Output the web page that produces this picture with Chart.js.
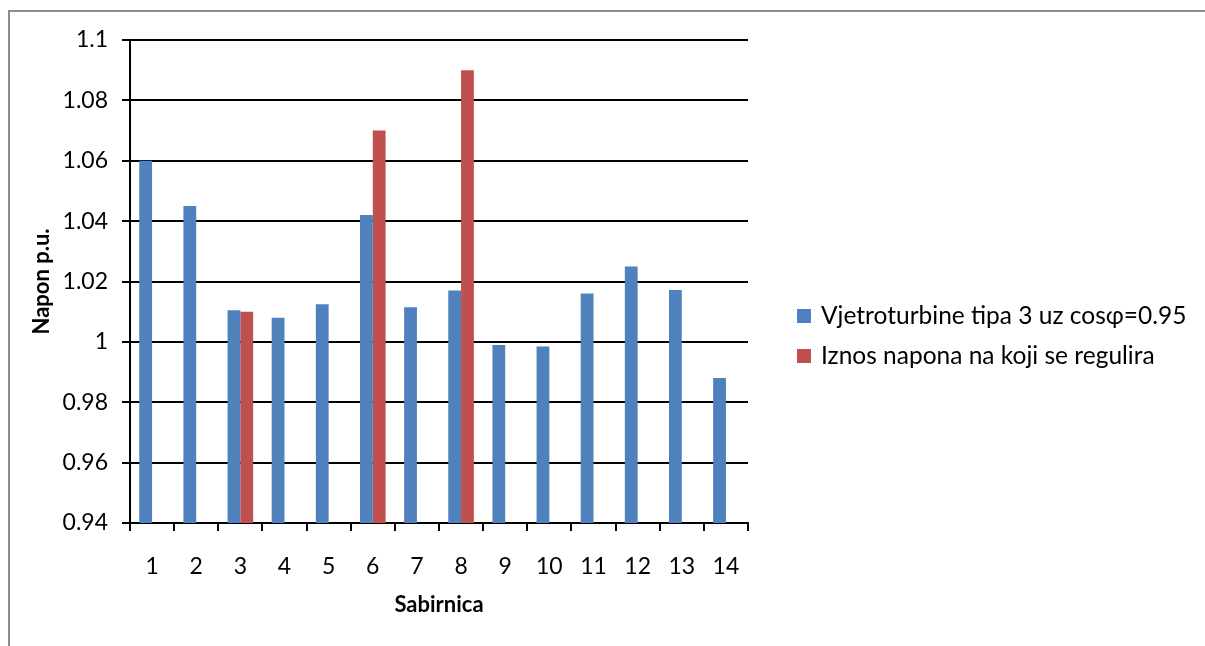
<!DOCTYPE html>
<html>
<head>
<meta charset="utf-8">
<script src="https://cdn.jsdelivr.net/npm/chart.js@4"></script>
<style>
  html, body { margin: 0; padding: 0; background: #fff; }
  #wrap { width: 1205px; height: 646px; position: relative; }
</style>
</head>
<body>
<div id="wrap"><canvas id="napon" width="1205" height="646"></canvas></div>
<script>
var sabirnice = ["1", "2", "3", "4", "5", "6", "7", "8", "9", "10", "11", "12", "13", "14"]
var vjetroturbine = [1.06, 1.045, 1.0105, 1.008, 1.0125, 1.042, 1.0115, 1.017, 0.999, 0.9985, 1.016, 1.025, 1.0172, 0.988]
var regulirano = [null, null, 1.01, null, null, 1.07, null, 1.09, null, null, null, null, null, null]
var nazivi = ["Vjetroturbine tipa 3 uz cosφ=0.95", "Iznos napona na koji se regulira"]
var boje = ["#4F81BD", "#C0504D"]

var FONT = "Lato, 'Open Sans', sans-serif"

// okvir oko grafa i legenda desno
var okvir = {
  id: "okvir",
  beforeDraw: function (chart) {
    var c = chart.ctx
    c.save()
    c.strokeStyle = "#8c8c8c"
    c.lineWidth = 2
    c.strokeRect(9, 11, 1400, 1000)
    c.restore()
  },
  afterDraw: function (chart) {
    var c = chart.ctx
    c.save()
    c.font = "24.5px " + FONT
    c.textBaseline = "middle"
    chart.data.datasets.forEach(function (ds, i) {
      var y = 316 + i * 40
      c.fillStyle = ds.backgroundColor
      c.fillRect(797, y - 7, 14, 14)
      c.fillStyle = "#000"
      c.fillText(ds.label, 821, y)
    })
    c.restore()
  }
}

var config = {
  type: "bar",
  data: {
    labels: sabirnice,
    datasets: [
      {
        label: nazivi[0],
        data: vjetroturbine,
        backgroundColor: boje[0],
        categoryPercentage: 0.58,
        barPercentage: 1
      },
      {
        label: nazivi[1],
        data: regulirano,
        backgroundColor: boje[1],
        categoryPercentage: 0.58,
        barPercentage: 1
      }
    ]
  },
  options: {
    responsive: false,
    animation: false,
    layout: {
      padding: { left: 20, right: 457, top: 40, bottom: 0 }
    },
    plugins: {
      legend: { display: false },
      tooltip: { enabled: false }
    },
    scales: {
      x: {
        grid: {
          offset: true,
          drawOnChartArea: false,
          color: "#000",
          lineWidth: 2,
          tickLength: 8
        },
        border: { color: "#000", width: 2 },
        ticks: {
          color: "#000",
          font: { family: FONT, size: 23 },
          padding: 22,
          maxRotation: 0
        },
        title: {
          display: true,
          text: "Sabirnica",
          color: "#000",
          font: { family: FONT, size: 22, weight: "bold" },
          padding: { top: 8, bottom: 28 }
        },
        afterFit: function (axis) { axis.height = 123 }
      },
      y: {
        min: 0.94,
        max: 1.1,
        grid: {
          color: "#000",
          lineWidth: 2,
          tickLength: 8
        },
        border: { color: "#000", width: 2 },
        ticks: {
          stepSize: 0.02,
          color: "#000",
          padding: 14,
          font: { family: FONT, size: 23 },
          callback: function (v) { return String(parseFloat(v.toFixed(2))) }
        },
        title: {
          display: true,
          text: "Napon p.u.",
          color: "#000",
          font: { family: FONT, size: 22, weight: "bold" },
          padding: { top: 9, bottom: 0 }
        },
        afterFit: function (axis) { axis.width = 110 }
      }
    }
  },
  plugins: [okvir]
}

var naponChart = new Chart(document.getElementById("napon"), config)
</script>
</body>
</html>
